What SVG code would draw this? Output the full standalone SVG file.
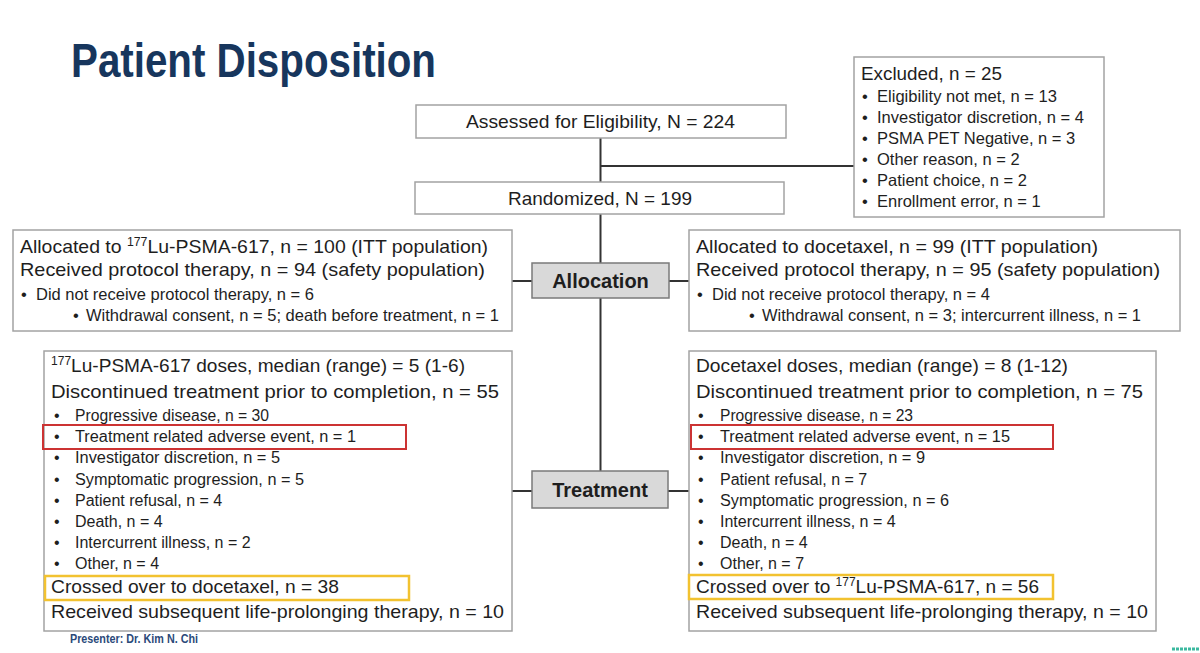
<svg xmlns="http://www.w3.org/2000/svg" width="1200" height="653" viewBox="0 0 1200 653">
<style>
text{font-family:"Liberation Sans",Arial,sans-serif;fill:#1e1e1e}
.box{fill:#fff;stroke:#a3a3a3;stroke-width:1.5}
.stage{fill:#d9d9d9;stroke:#7a7a7a;stroke-width:1.5}
.stage-t{font-size:20px;font-weight:bold;text-anchor:middle}
.big{font-size:19px}
.sm{font-size:16.5px}
.tb{font-size:16px}
.sup{font-size:12px}
.conn{stroke:#333;stroke-width:2;fill:none}
.red{fill:none;stroke:#cc3333;stroke-width:2}
.yel{fill:none;stroke:#f2c230;stroke-width:2.5}
</style>
<rect width="1200" height="653" fill="#fff"/>
<text x="71" y="77" font-size="48" font-weight="bold" textLength="365" lengthAdjust="spacingAndGlyphs" style="fill:#17365d">Patient Disposition</text>

<g id="connectors">
<line class="conn" x1="600.5" y1="138" x2="600.5" y2="182"/>
<line class="conn" x1="600.5" y1="166" x2="854" y2="166"/>
<line class="conn" x1="600.5" y1="214" x2="600.5" y2="263"/>
<line class="conn" x1="600.5" y1="298" x2="600.5" y2="471"/>
<line class="conn" x1="512" y1="281" x2="532" y2="281"/>
<line class="conn" x1="669" y1="281" x2="689" y2="281"/>
<line class="conn" x1="512" y1="491" x2="532" y2="491"/>
<line class="conn" x1="668" y1="491" x2="689" y2="491"/>
</g>

<g id="assessed">
<rect class="box" x="416" y="105" width="370" height="33"/>
<text class="big" x="600.5" y="128" text-anchor="middle" textLength="269" lengthAdjust="spacingAndGlyphs">Assessed for Eligibility, N = 224</text>
</g>

<g id="randomized">
<rect class="box" x="415" y="182" width="369" height="32"/>
<text class="big" x="600" y="205" text-anchor="middle" textLength="184" lengthAdjust="spacingAndGlyphs">Randomized, N = 199</text>
</g>

<g id="excluded">
<rect class="box" x="854" y="57" width="250" height="160"/>
<text class="big" x="861" y="80" textLength="141" lengthAdjust="spacingAndGlyphs">Excluded, n = 25</text>
<g class="sm">
<text x="862" y="102">•</text><text x="877" y="102" textLength="180" lengthAdjust="spacingAndGlyphs">Eligibility not met, n = 13</text>
<text x="862" y="123">•</text><text x="877" y="123">Investigator discretion, n = 4</text>
<text x="862" y="144">•</text><text x="877" y="144">PSMA PET Negative, n = 3</text>
<text x="862" y="165">•</text><text x="877" y="165">Other reason, n = 2</text>
<text x="862" y="186">•</text><text x="877" y="186">Patient choice, n = 2</text>
<text x="862" y="207">•</text><text x="877" y="207">Enrollment error, n = 1</text>
</g>
</g>

<g id="allocation">
<rect class="stage" x="532" y="263" width="137" height="35"/>
<text class="stage-t" x="600.5" y="288">Allocation</text>
</g>

<g id="alloc-lu">
<rect class="box" x="13" y="230" width="499" height="101"/>
<text class="big" x="20" y="253" textLength="468" lengthAdjust="spacingAndGlyphs">Allocated to <tspan class="sup" dy="-7">177</tspan><tspan dy="7">Lu-PSMA-617, n = 100 (ITT population)</tspan></text>
<text class="big" x="20" y="276" textLength="465" lengthAdjust="spacingAndGlyphs">Received protocol therapy, n = 94 (safety population)</text>
<text class="sm" x="21" y="300">•</text><text class="sm" x="36" y="300" textLength="278" lengthAdjust="spacingAndGlyphs">Did not receive protocol therapy, n = 6</text>
<text class="sm" x="73" y="321">•</text><text class="sm" x="86" y="321" textLength="413" lengthAdjust="spacingAndGlyphs">Withdrawal consent, n = 5; death before treatment, n = 1</text>
</g>

<g id="alloc-doc">
<rect class="box" x="689" y="230" width="491" height="101"/>
<text class="big" x="696" y="253" textLength="402" lengthAdjust="spacingAndGlyphs">Allocated to docetaxel, n = 99 (ITT population)</text>
<text class="big" x="696" y="276" textLength="464" lengthAdjust="spacingAndGlyphs">Received protocol therapy, n = 95 (safety population)</text>
<text class="sm" x="697" y="300">•</text><text class="sm" x="712" y="300" textLength="278" lengthAdjust="spacingAndGlyphs">Did not receive protocol therapy, n = 4</text>
<text class="sm" x="749" y="321">•</text><text class="sm" x="762" y="321" textLength="379" lengthAdjust="spacingAndGlyphs">Withdrawal consent, n = 3; intercurrent illness, n = 1</text>
</g>

<g id="treatment">
<rect class="stage" x="532" y="471" width="136" height="37"/>
<text class="stage-t" x="600" y="497">Treatment</text>
</g>

<g id="treat-lu">
<rect class="box" x="44" y="351" width="468" height="280"/>
<text class="big" x="51" y="372" textLength="414" lengthAdjust="spacingAndGlyphs"><tspan class="sup" dy="-7">177</tspan><tspan dy="7">Lu-PSMA-617 doses, median (range) = 5 (1-6)</tspan></text>
<text class="big" x="51" y="398" textLength="448" lengthAdjust="spacingAndGlyphs">Discontinued treatment prior to completion, n = 55</text>
<g class="tb">
<text x="54" y="421">•</text><text x="75" y="421" textLength="194" lengthAdjust="spacingAndGlyphs">Progressive disease, n = 30</text>
<text x="54" y="442">•</text><text x="75" y="442" textLength="281" lengthAdjust="spacingAndGlyphs">Treatment related adverse event, n = 1</text>
<text x="54" y="463">•</text><text x="75" y="463" textLength="205" lengthAdjust="spacingAndGlyphs">Investigator discretion, n = 5</text>
<text x="54" y="485">•</text><text x="75" y="485" textLength="229" lengthAdjust="spacingAndGlyphs">Symptomatic progression, n = 5</text>
<text x="54" y="506">•</text><text x="75" y="506">Patient refusal, n = 4</text>
<text x="54" y="527">•</text><text x="75" y="527">Death, n = 4</text>
<text x="54" y="548">•</text><text x="75" y="548">Intercurrent illness, n = 2</text>
<text x="54" y="569">•</text><text x="75" y="569">Other, n = 4</text>
</g>
<text class="big" x="51" y="593" textLength="288" lengthAdjust="spacingAndGlyphs">Crossed over to docetaxel, n = 38</text>
<text class="big" x="51" y="618" textLength="453" lengthAdjust="spacingAndGlyphs">Received subsequent life-prolonging therapy, n = 10</text>
<rect class="red" x="43" y="425" width="363" height="24"/>
<rect class="yel" x="45" y="576" width="364" height="24"/>
</g>

<g id="treat-doc">
<rect class="box" x="689" y="351" width="467" height="280"/>
<text class="big" x="696" y="372" textLength="372" lengthAdjust="spacingAndGlyphs">Docetaxel doses, median (range) = 8 (1-12)</text>
<text class="big" x="696" y="398" textLength="447" lengthAdjust="spacingAndGlyphs">Discontinued treatment prior to completion, n = 75</text>
<g class="tb">
<text x="698" y="421">•</text><text x="720" y="421" textLength="193" lengthAdjust="spacingAndGlyphs">Progressive disease, n = 23</text>
<text x="698" y="442">•</text><text x="720" y="442" textLength="290" lengthAdjust="spacingAndGlyphs">Treatment related adverse event, n = 15</text>
<text x="698" y="463">•</text><text x="720" y="463" textLength="205" lengthAdjust="spacingAndGlyphs">Investigator discretion, n = 9</text>
<text x="698" y="485">•</text><text x="720" y="485">Patient refusal, n = 7</text>
<text x="698" y="506">•</text><text x="720" y="506" textLength="229" lengthAdjust="spacingAndGlyphs">Symptomatic progression, n = 6</text>
<text x="698" y="527">•</text><text x="720" y="527">Intercurrent illness, n = 4</text>
<text x="698" y="548">•</text><text x="720" y="548">Death, n = 4</text>
<text x="698" y="569">•</text><text x="720" y="569">Other, n = 7</text>
</g>
<text class="big" x="696" y="593" textLength="343" lengthAdjust="spacingAndGlyphs">Crossed over to <tspan class="sup" dy="-7">177</tspan><tspan dy="7">Lu-PSMA-617, n = 56</tspan></text>
<text class="big" x="696" y="618" textLength="452" lengthAdjust="spacingAndGlyphs">Received subsequent life-prolonging therapy, n = 10</text>
<rect class="red" x="691" y="425" width="362" height="24"/>
<rect class="yel" x="689" y="575" width="364" height="24"/>
</g>

<text x="70" y="643" font-size="12" font-weight="bold" textLength="128" lengthAdjust="spacingAndGlyphs" style="fill:#2b4a7a">Presenter: Dr. Kim N. Chi</text>
<line x1="1172" y1="649" x2="1200" y2="649" stroke="#3cb9a0" stroke-width="3" stroke-dasharray="3 1"/>
</svg>
